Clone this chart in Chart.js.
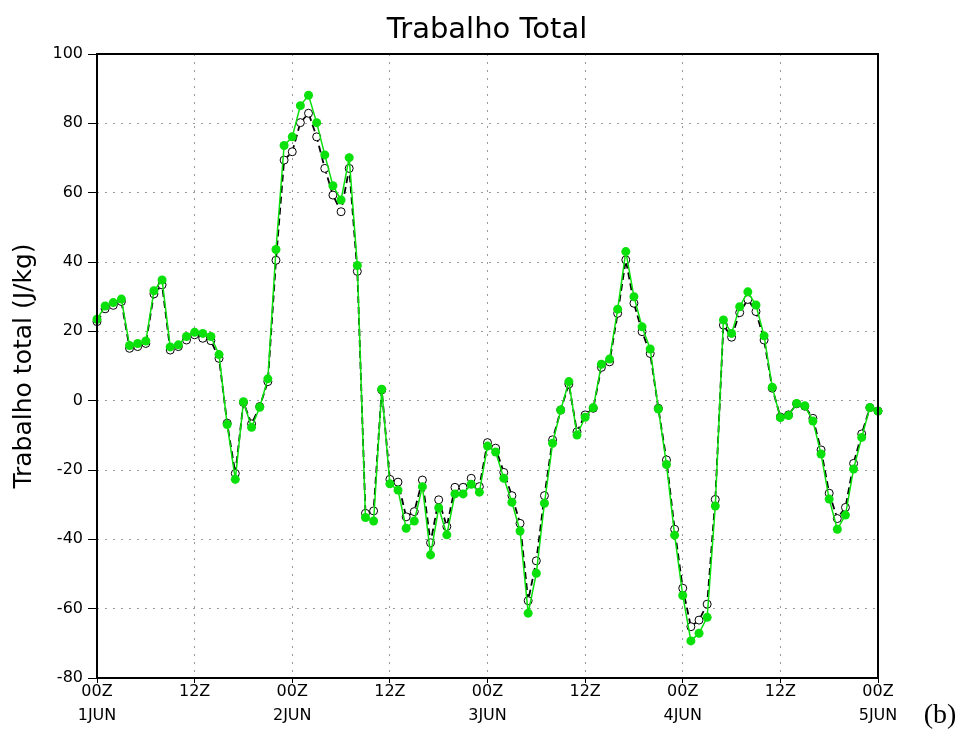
<!DOCTYPE html>
<html>
<head>
<meta charset="utf-8">
<script src="https://cdn.jsdelivr.net/npm/chart.js@4"></script>
<style>
  html, body { margin: 0; padding: 0; background: #fff; }
  canvas { display: block; }
</style>
</head>
<body>
<canvas id="trabalhoChart" width="964" height="729"></canvas>
<script>
// hourly values from 00Z 1JUN to 00Z 5JUN
const greenVals = [
    23.5, 27.3, 28.3, 29.3, 15.9, 16.5, 17.2, 31.7, 34.8, 15.5, 16.1, 18.5,
    19.7, 19.4, 18.5, 13.3, -6.9, -22.7, -0.3, -7.7, -1.9, 6.3, 43.6, 73.6,
    76.1, 85.1, 88.1, 80.2, 70.9, 62.0, 57.9, 70.1, 39.0, -33.7, -34.7, 3.3,
    -24.0, -25.8, -36.8, -34.7, -24.8, -44.5, -30.9, -38.7, -26.9, -26.9, -24.1, -26.4,
    -13.1, -14.8, -22.4, -29.3, -37.6, -61.3, -49.8, -29.6, -12.3, -2.7, 5.5, -9.9,
    -4.8, -2.0, 10.5, 12.0, 26.4, 43.0, 30.0, 21.3, 14.9, -2.4, -18.4, -38.8,
    -56.2, -69.3, -67.1, -62.5, -30.4, 23.3, 19.4, 27.1, 31.4, 27.6, 18.7, 3.9,
    -4.9, -4.3, -0.8, -1.5, -5.9, -15.4, -28.4, -37.1, -33.0, -19.7, -10.6, -2.0,
    -3.0
];
const blackVals = [
    22.8, 26.5, 27.5, 28.6, 15.1, 15.6, 16.5, 30.8, 33.4, 14.6, 15.6, 17.5,
    19.0, 18.0, 17.3, 12.2, -6.5, -21.0, -0.5, -6.7, -1.7, 5.5, 40.5, 69.4,
    71.8, 80.2, 82.9, 76.1, 67.0, 59.3, 54.5, 67.0, 37.3, -32.5, -31.8, 3.1,
    -22.7, -23.5, -33.5, -32.0, -22.9, -41.0, -28.6, -36.3, -25.0, -25.0, -22.4, -24.8,
    -12.1, -13.7, -20.7, -27.4, -35.4, -57.7, -46.2, -27.4, -11.3, -2.7, 4.8, -9.0,
    -4.1, -2.2, 9.6, 11.2, 25.2, 40.6, 28.1, 19.9, 13.6, -2.2, -17.1, -37.1,
    -54.1, -65.2, -63.3, -58.7, -28.5, 21.8, 18.3, 25.4, 29.2, 25.7, 17.5, 3.6,
    -4.7, -4.1, -0.9, -1.6, -5.1, -14.2, -26.7, -34.0, -30.8, -18.1, -9.6, -2.0,
    -3.0
];
const hourLabels = ['00Z', '12Z'];
const dayLabels = ['1JUN', '2JUN', '3JUN', '4JUN', '5JUN'];

const toPoints = vals => vals.map((v, i) => ({ x: i, y: v }));

const FONT = "'DejaVu Sans', sans-serif";

// frame, title and panel tag
const extras = {
    id: 'extras',
    afterDraw(chart) {
        const { ctx, chartArea: a } = chart;
        ctx.save();
        ctx.strokeStyle = '#000';
        ctx.lineWidth = 2;
        ctx.strokeRect(a.left, a.top, a.right - a.left, a.bottom - a.top);

        ctx.fillStyle = '#000';
        ctx.textAlign = 'center';
        ctx.textBaseline = 'alphabetic';
        ctx.font = `29px ${FONT}`;
        ctx.fillText('Trabalho Total', 487, 38);

        ctx.font = "28px 'Liberation Serif', serif";
        ctx.fillText('(b)', 940, 723);
        ctx.restore();
    }
};

const ctx = document.getElementById('trabalhoChart').getContext('2d');

new Chart(ctx, {
    type: 'line',
    data: {
        datasets: [{
            label: 'green',
            data: toPoints(greenVals),
            borderColor: 'rgb(10, 225, 10)',
            backgroundColor: 'rgb(10, 225, 10)',
            borderWidth: 1.5,
            pointRadius: 4.5,
            pointBorderWidth: 0,
            pointBackgroundColor: 'rgb(10, 225, 10)',
            clip: false
        }, {
            label: 'black',
            data: toPoints(blackVals),
            borderColor: '#000',
            borderWidth: 1.8,
            borderDash: [7, 4],
            pointRadius: 4,
            pointBorderWidth: 1,
            pointBorderColor: '#000',
            pointBackgroundColor: '#fff',
            clip: false
        }]
    },
    options: {
        responsive: false,
        animation: false,
        devicePixelRatio: 1,
        layout: {
            padding: { top: 54, right: 86, left: 0, bottom: 0 }
        },
        plugins: {
            legend: { display: false },
            tooltip: { enabled: false }
        },
        scales: {
            x: {
                type: 'linear',
                min: 0,
                max: 96,
                afterFit: s => { s.height = 51; },
                afterBuildTicks: s => {
                    s.ticks = [0, 12, 24, 36, 48, 60, 72, 84, 96].map(v => ({ value: v }));
                },
                border: { display: false, dash: [2, 6] },
                grid: {
                    color: '#9a9a9a',
                    lineWidth: 1,
                    tickLength: 5,
                    tickColor: '#000',
                    tickBorderDash: [],
                    tickWidth: 1
                },
                ticks: {
                    color: '#000',
                    padding: -3,
                    maxRotation: 0,
                    autoSkip: false,
                    font: { family: FONT, size: 16, lineHeight: 1.5 },
                    callback: v => (v % 24 === 0)
                        ? [hourLabels[0], dayLabels[v / 24]]
                        : hourLabels[1]
                }
            },
            y: {
                min: -80,
                max: 100,
                afterFit: s => { s.width = 97; },
                border: { display: false, dash: [2, 6] },
                grid: {
                    color: '#9a9a9a',
                    lineWidth: 1,
                    tickLength: 9,
                    tickColor: '#000',
                    tickBorderDash: [],
                    tickWidth: 1
                },
                ticks: {
                    stepSize: 20,
                    color: '#000',
                    padding: 5,
                    font: { family: FONT, size: 16 }
                },
                title: {
                    display: true,
                    text: 'Trabalho total (J/kg)',
                    color: '#000',
                    padding: { top: 12, bottom: 0 },
                    font: { family: FONT, size: 25, lineHeight: 1 }
                }
            }
        }
    },
    plugins: [extras]
});
</script>
</body>
</html>
